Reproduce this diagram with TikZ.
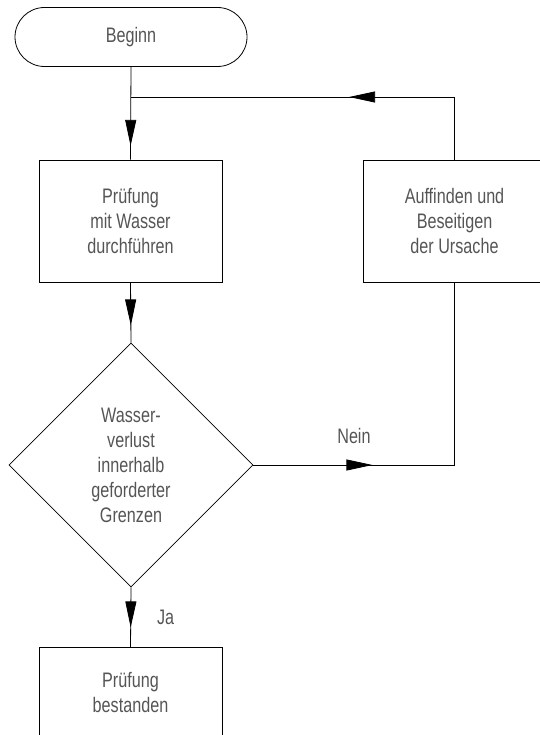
\documentclass[tikz,border=0pt]{standalone}
\usepackage{fontspec}
\setmainfont[FakeStretch=0.77]{Liberation Sans}
\usetikzlibrary{arrows.meta,shapes.misc,shapes.geometric,decorations.markings}
\definecolor{textgrau}{HTML}{555555}

\begin{document}
\begin{tikzpicture}[x=1pt,y=-1pt,line width=0.8pt,
    every node/.style={font=\fontsize{21}{25}\selectfont, text=textgrau, align=center},
    startstop/.style={draw=black, rounded rectangle, minimum width=232pt, minimum height=59pt, inner sep=0pt},
    schritt/.style={draw=black, rectangle, minimum width=183pt, minimum height=122pt, inner sep=0pt},
    frage/.style={draw=black, diamond, aspect=1, minimum width=244pt, minimum height=244pt, inner sep=0pt},
    beschr/.style={inner sep=0pt},
    mid arrow/.style={postaction={decorate}, decoration={markings,
        mark=at position #1 with {\arrow{Triangle[length=26pt,width=11pt]}}}}]
  \useasboundingbox (0,0) rectangle (539,735);

  \node[startstop]  (beginn)    at (131,37)    {Beginn};
  \node[schritt]    (pruefung)  at (130.5,221) {Prüfung\\mit Wasser\\durchführen};
  \node[schritt]    (ursache)   at (454.5,221) {Auffinden und\\Beseitigen\\der Ursache};
  \node[frage]      (verlust)   at (131,465)   {Wasser-\\verlust\\innerhalb\\geforderter\\Grenzen};
  \node[schritt, minimum height=90pt, anchor=north] (bestanden) at (130.5,647) {Prüfung\\bestanden};
  \coordinate (rueck) at (131,97);

  % Hauptablauf
  \draw[mid arrow=79pt] (beginn.south) -- (pruefung.north);
  \draw[mid arrow=43pt] (pruefung.south) -- (verlust.north);
  \draw[mid arrow=40pt] (verlust.south) -- node[beschr, right=26pt] {Ja} (bestanden.north);

  % Schleife bei Nein
  \draw[mid arrow=119pt] (verlust.east) -| node[beschr, pos=0.25, above=21pt] {Nein} (ursache.south);
  \draw[mid arrow=168pt] (ursache.north) |- (rueck);
\end{tikzpicture}
\end{document}
